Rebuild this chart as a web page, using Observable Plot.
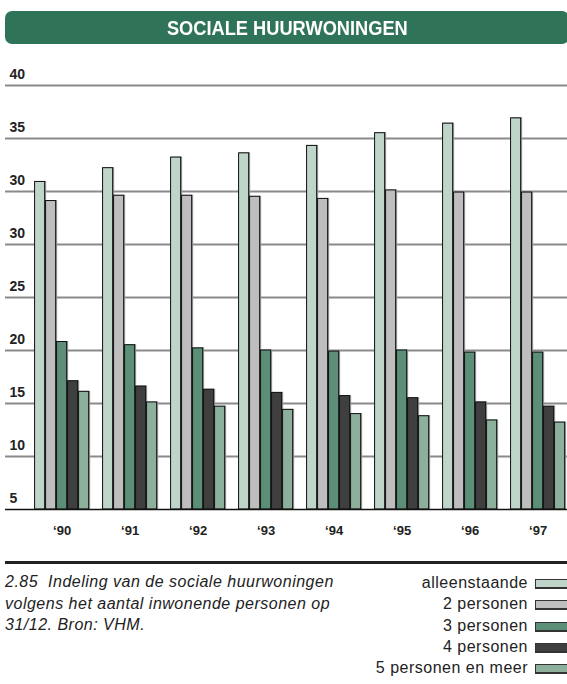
<!DOCTYPE html>
<html>
<head>
<meta charset="utf-8">
<script src="https://cdn.jsdelivr.net/npm/d3@7"></script>
<script src="https://cdn.jsdelivr.net/npm/@observablehq/plot@0.6"></script>
<style>
  html, body { margin: 0; padding: 0; background: #fff; }
  body { position: relative; width: 567px; height: 684px; overflow: hidden; font-family: "Liberation Sans", Arial, sans-serif; }
  #banner { position: absolute; left: 5px; top: 11px; width: 564px; height: 33px; background: #2f7359; border-radius: 7px;
    color: #fff; font-weight: bold; font-size: 20.5px; text-align: center; line-height: 34px; }
  #banner span { display: inline-block; transform: scaleX(0.89); transform-origin: center; }
  #chart { position: absolute; left: 0; top: 50px; }
  #rule { position: absolute; left: 5px; top: 561px; width: 562px; height: 3px; background: #222; }
  #caption { position: absolute; left: 5px; top: 571px; font-style: italic; font-size: 16px; letter-spacing: 0.5px; line-height: 21.5px; color: #222; white-space: pre; }
  #legend { position: absolute; right: 0; top: 572px; }
  .row { position: relative; height: 21.3px; width: 300px; }
  .row span { position: absolute; right: 39px; top: 0; font-size: 16px; letter-spacing: 0.5px; line-height: 21.3px; color: #222; white-space: nowrap; }
  .row i { position: absolute; left: 268px; top: 7px; width: 40px; height: 7px; border: 1px solid #333; border-bottom-width: 2px; }
</style>
</head>
<body>
<div id="banner"><span></span></div>
<div id="chart"></div>
<div id="rule"></div>
<div id="caption"></div>
<div id="legend"></div>
<script>
const title = "SOCIALE HUURWONINGEN";
const years = ["‘90", "‘91", "‘92", "‘93", "‘94", "‘95", "‘96", "‘97"];
const seriesNames = ["alleenstaande", "2 personen", "3 personen", "4 personen", "5 personen en meer"];
const seriesColors = ["#bfd5ca", "#bebebe", "#5c8f78", "#3f3f3f", "#8db09c"];
const alleenstaande = [30.9, 32.2, 33.2, 33.6, 34.3, 35.5, 36.4, 36.9];
const tweePersonen  = [29.1, 29.6, 29.6, 29.5, 29.3, 30.1, 29.9, 29.9];
const driePersonen  = [15.8, 15.5, 15.2, 15.0, 14.9, 15.0, 14.8, 14.8];
const vierPersonen  = [12.1, 11.6, 11.3, 11.0, 10.7, 10.5, 10.1, 9.7];
const vijfPersonen  = [11.1, 10.1, 9.7, 9.4, 9.0, 8.8, 8.4, 8.2];
const tickValues = [0, 5, 10, 15, 20, 25, 30, 35, 40];
const tickLabels = ["5", "10", "15", "20", "25", "30", "30", "35", "40"];
const captionLines = ["2.85  Indeling van de sociale huurwoningen", "volgens het aantal inwonende personen op", "31/12. Bron: VHM."];

const seriesValues = [alleenstaande, tweePersonen, driePersonen, vierPersonen, vijfPersonen];
const data = seriesNames.flatMap((s, i) => years.map((y, j) => ({year: y, series: s, value: seriesValues[i][j]})));

document.querySelector("#banner span").textContent = title;
document.getElementById("caption").textContent = captionLines.join("\n");
const legend = document.getElementById("legend");
seriesNames.forEach((s, i) => {
  const row = document.createElement("div");
  row.className = "row";
  const t = document.createElement("span");
  t.textContent = s;
  const sw = document.createElement("i");
  sw.style.background = seriesColors[i];
  row.append(t, sw);
  legend.append(row);
});

const W = 567, H = 500;
const barW = 11;

const barMarks = seriesNames.map((s, i) =>
  Plot.barY(data.filter(d => d.series === s), {
    x: "year", y: "value", fill: seriesColors[i], stroke: "#111", strokeWidth: 1,
    insetLeft: i * barW + 0.5, insetRight: (4 - i) * barW + 0.5
  })
);

const plot = Plot.plot({
  width: W, height: H,
  marginLeft: 5, marginRight: 0, marginTop: 35, marginBottom: 41,
  style: {fontFamily: "'Liberation Sans', Arial, sans-serif", background: "transparent", overflow: "visible"},
  x: {domain: years, paddingInner: 0.19, paddingOuter: 0.2275, align: 0.94, round: false, axis: null},
  y: {domain: [0, 40], axis: null},
  marks: [
    Plot.ruleY(tickValues.filter(v => v > 0), {stroke: "#8a8a8a", strokeWidth: 2}),
    ...barMarks,
    Plot.ruleY([0], {stroke: "#111", strokeWidth: 1.5}),
    Plot.text(tickValues, {y: d => d, text: (d, i) => tickLabels[i], frameAnchor: "left", textAnchor: "start",
      dx: 4, dy: -11, fontWeight: "bold", fontSize: 14, fill: "#222"}),
    Plot.axisX({tickSize: 0, tickPadding: 16, label: null, fontWeight: "bold", fontSize: 13, fill: "#222"})
  ]
});
plot.querySelectorAll('g[aria-label="bar"]').forEach(g => g.style.filter = "drop-shadow(1.5px 0px 0px #999)");
document.getElementById("chart").append(plot);
</script>
</body>
</html>
